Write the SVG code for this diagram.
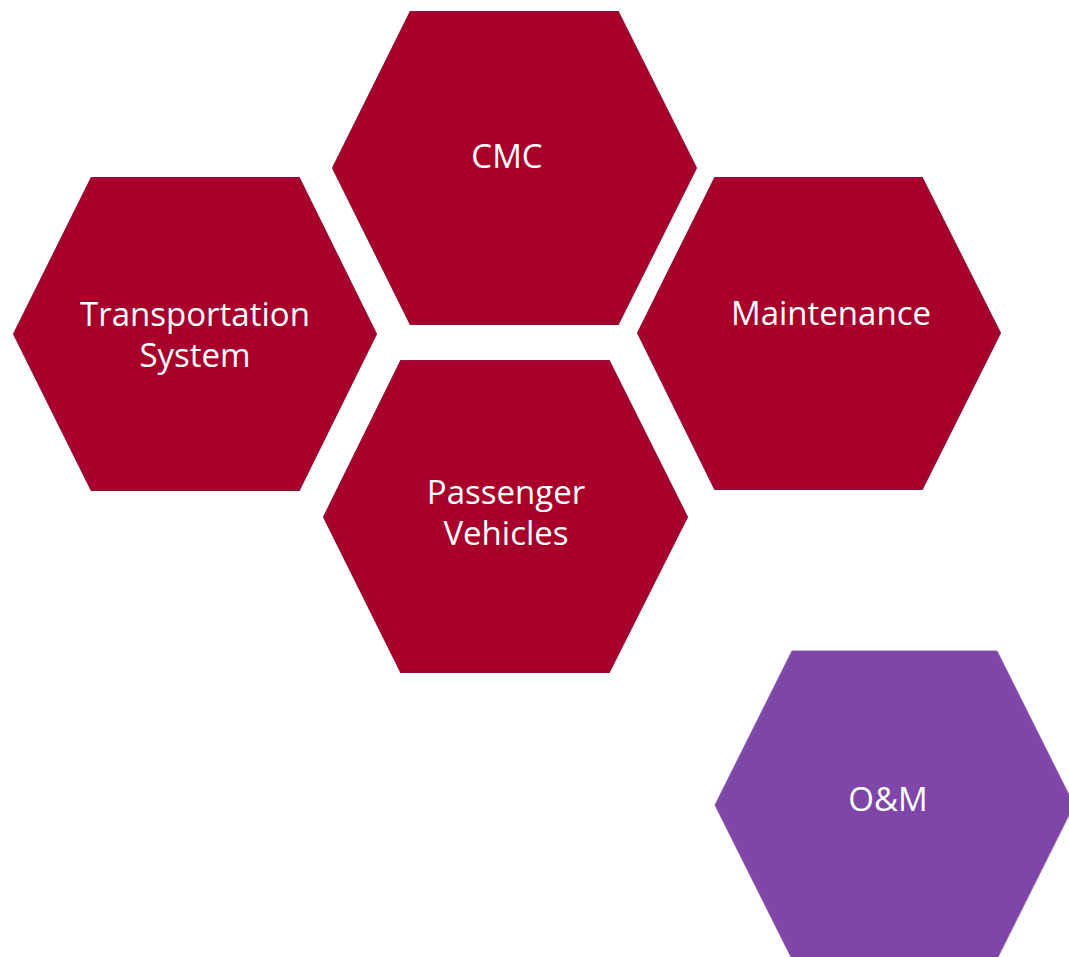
<svg xmlns="http://www.w3.org/2000/svg" width="1069" height="957" viewBox="0 0 1069 957">
<style>
.red{fill:#A8002B;stroke:#9B0A30;stroke-width:2;stroke-linejoin:miter}
.pur{fill:#7E46A8;stroke:#8A5AB3;stroke-width:1}
.t{font-family:"Open Sans","Liberation Sans",sans-serif;font-size:33px;fill:#FFFFFF;text-anchor:middle}
</style>
<rect width="1069" height="957" fill="#FFFFFF"/>
<g id="connectors"/>
<g id="cmc">
<polygon class="red" points="410.5,12 618,12 696,168 618,324 410.5,324 333,168"/>
<text class="t" x="507" y="168">CMC</text>
</g>
<g id="transportation-system">
<polygon class="red" points="91.5,178 299,178 376,334 299,490 91.5,490 14,334"/>
<text class="t" x="195" y="326">Transportation</text>
<text class="t" x="195" y="367">System</text>
</g>
<g id="maintenance">
<polygon class="red" points="715,178 922,178 1000,333 922,489 715,489 638,333"/>
<text class="t" x="831" y="325">Maintenance</text>
</g>
<g id="passenger-vehicles">
<polygon class="red" points="401,361 609,361 687,517 609,672 401,672 324,517"/>
<text class="t" x="506" y="504">Passenger</text>
<text class="t" x="506" y="545">Vehicles</text>
</g>
<g id="om">
<polygon class="pur" points="792,651 997,651 1074,805 997,959 792,959 715,805"/>
<text class="t" x="888" y="811">O&amp;M</text>
</g>
</svg>
